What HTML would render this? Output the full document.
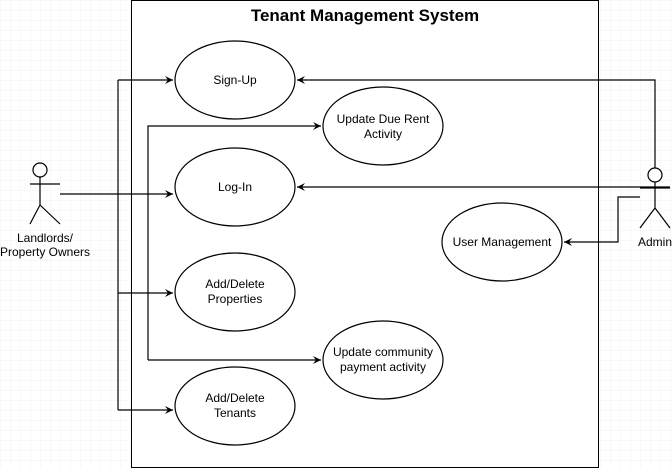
<!DOCTYPE html>
<html><head><style>
html,body{margin:0;padding:0;background:#fff;}
svg{display:block;}
text{font-family:"Liberation Sans",Arial,sans-serif;font-size:12px;fill:#000;}
</style></head><body>
<svg width="672" height="468" viewBox="0 0 672 468" xmlns="http://www.w3.org/2000/svg">
<defs>
<pattern id="g" width="10" height="10" patternUnits="userSpaceOnUse">
<path d="M10 0H0V10" fill="none" stroke="#f2f2f2" stroke-width="1"/>
</pattern>
<marker id="a" markerWidth="10" markerHeight="10" refX="8" refY="5" orient="auto" markerUnits="userSpaceOnUse">
<path d="M0,1 L8,5 L0,9 L3,5 Z" fill="#000"/>
</marker>
</defs>
<rect width="672" height="468" fill="url(#g)"/>
<rect x="131.5" y="0.5" width="467" height="467" fill="#fff" stroke="#000"/>
<text x="365" y="21" text-anchor="middle" style="font-size:17px;font-weight:bold">Tenant Management System</text>
<g fill="none" stroke="#000" stroke-width="1.2">
<ellipse cx="235" cy="80" rx="60" ry="39"/>
<ellipse cx="235" cy="187" rx="60" ry="39"/>
<ellipse cx="235" cy="292" rx="60" ry="39"/>
<ellipse cx="235" cy="406" rx="60" ry="39"/>
<ellipse cx="383" cy="126" rx="60" ry="39"/>
<ellipse cx="383" cy="360" rx="60" ry="39"/>
<ellipse cx="502" cy="242" rx="60" ry="39"/>
<circle cx="40" cy="170" r="7"/>
<path d="M40 177V205M30 184H60M40 205L30 224M40 205L60 224"/>
<circle cx="655" cy="175" r="7"/>
<path d="M655 182V208M640 188H670M655 208L640 228M655 208L670 228"/>
</g>
<g fill="none" stroke="#000" stroke-width="1.2">
<path d="M60 194H173" marker-end="url(#a)"/>
<path d="M118 80V410M118 80H173" marker-end="url(#a)"/>
<path d="M118 293H173" marker-end="url(#a)"/>
<path d="M118 410H173" marker-end="url(#a)"/>
<path d="M148 360V126H321" marker-end="url(#a)"/>
<path d="M148 360H321" marker-end="url(#a)"/>
<path d="M655 168V80H297" marker-end="url(#a)"/>
<path d="M670 187H297" marker-end="url(#a)"/>
<path d="M640 197H618V242H564" marker-end="url(#a)"/>
</g>
<text x="235" y="84" text-anchor="middle">Sign-Up</text>
<text x="235" y="191" text-anchor="middle">Log-In</text>
<text x="235" y="288" text-anchor="middle">Add/Delete</text>
<text x="235" y="303" text-anchor="middle">Properties</text>
<text x="235" y="402" text-anchor="middle">Add/Delete</text>
<text x="235" y="417" text-anchor="middle">Tenants</text>
<text x="383" y="123" text-anchor="middle">Update Due Rent</text>
<text x="383" y="138" text-anchor="middle">Activity</text>
<text x="383" y="356" text-anchor="middle">Update community</text>
<text x="383" y="371" text-anchor="middle">payment activity</text>
<text x="502" y="246" text-anchor="middle">User Management</text>
<text x="45" y="242" text-anchor="middle">Landlords/</text>
<text x="45" y="256" text-anchor="middle">Property Owners</text>
<text x="638" y="246">Admin</text>
</svg>
</body></html>
